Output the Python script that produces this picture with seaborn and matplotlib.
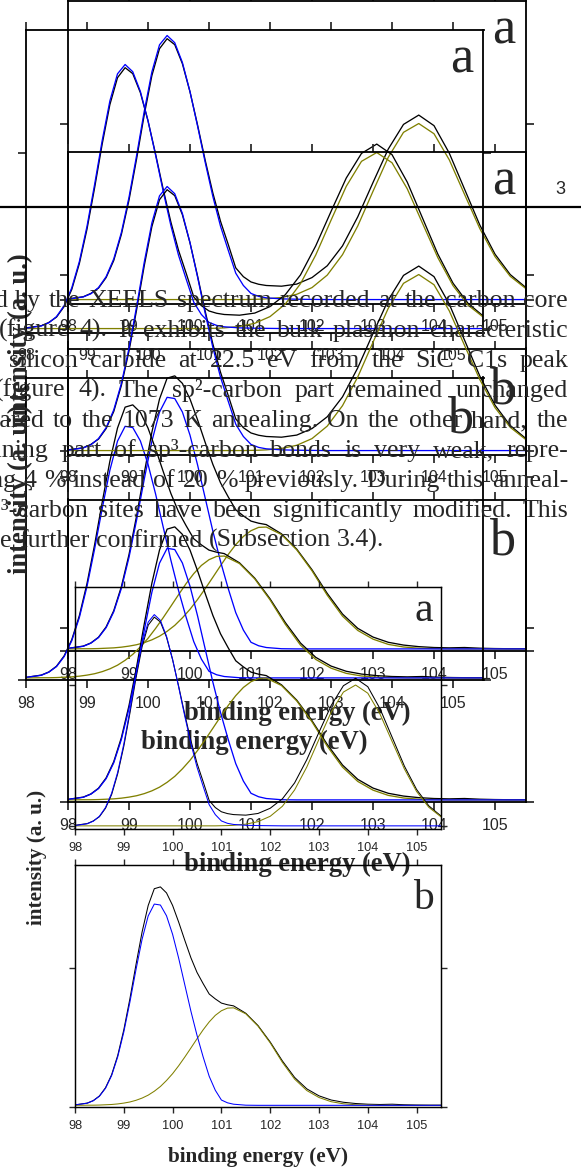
import numpy as np
import pandas as pd
import matplotlib
matplotlib.use("Agg")
import matplotlib.pyplot as plt
import seaborn as sns
from matplotlib.lines import Line2D

# ---------------- data ----------------
ENERGY = [98.0, 98.25, 98.375, 98.5, 98.625, 98.75, 98.875, 99.0, 99.125, 99.25, 99.375, 99.5,
          99.625, 99.75, 99.875, 100.0, 100.125, 100.25, 100.375, 100.5, 100.625, 100.75,
          100.875, 101.0, 101.125, 101.25, 101.5, 101.75, 102.0, 102.25, 102.5, 102.75,
          103.0, 103.25, 103.5, 103.75, 104.0, 104.25, 104.5, 104.75, 105.0, 105.25, 105.5]

# panel a : measured spectrum, Si-C component (blue), oxide component (olive)
A_TOTAL = [0.004, 0.016, 0.035, 0.065, 0.125, 0.222, 0.370, 0.565, 0.800, 1.050, 1.272, 1.425,
           1.482, 1.448, 1.340, 1.180, 0.990, 0.790, 0.605, 0.445, 0.315, 0.180,
           0.130, 0.100, 0.087, 0.080, 0.076, 0.088, 0.125, 0.192, 0.305, 0.470,
           0.665, 0.855, 0.995, 1.048, 0.988, 0.832, 0.628, 0.424, 0.258, 0.142, 0.070]
A_SIC = [0.002, 0.015, 0.033, 0.068, 0.130, 0.231, 0.381, 0.581, 0.819, 1.070, 1.293, 1.447,
         1.500, 1.459, 1.347, 1.181, 0.984, 0.778, 0.585, 0.417, 0.282, 0.150,
         0.080, 0.035, 0.018, 0.010, 0.004, 0.002, 0.001, 0.0, 0.0, 0.0,
         0.0, 0.0, 0.0, 0.0, 0.0, 0.0, 0.0, 0.0, 0.0, 0.0, 0.0]
A_OX = [0.0, 0.0, 0.0, 0.0, 0.0, 0.0, 0.0, 0.0, 0.0, 0.0, 0.0, 0.0,
        0.0, 0.0, 0.0, 0.0, 0.0, 0.0, 0.0, 0.0, 0.0, 0.0,
        0.0, 0.001, 0.002, 0.004, 0.012, 0.030, 0.068, 0.139, 0.255, 0.418,
        0.615, 0.808, 0.950, 1.000, 0.942, 0.794, 0.598, 0.404, 0.244, 0.132, 0.064]

# panel b
B_TOTAL = [0.015, 0.028, 0.046, 0.079, 0.138, 0.231, 0.369, 0.553, 0.776, 1.021, 1.255, 1.445,
           1.565, 1.578, 1.535, 1.445, 1.325, 1.195, 1.070, 0.965, 0.885, 0.810,
           0.775, 0.745, 0.733, 0.725, 0.672, 0.584, 0.466, 0.330, 0.212, 0.130,
           0.080, 0.050, 0.034, 0.025, 0.020, 0.018, 0.020, 0.016, 0.014, 0.013, 0.013]
B_SIC = [0.015, 0.027, 0.045, 0.077, 0.134, 0.225, 0.359, 0.537, 0.752, 0.985, 1.203, 1.370,
         1.455, 1.448, 1.371, 1.238, 1.066, 0.876, 0.687, 0.514, 0.360, 0.220,
         0.120, 0.050, 0.030, 0.020, 0.013, 0.012, 0.012, 0.012, 0.012, 0.012,
         0.012, 0.012, 0.012, 0.012, 0.012, 0.012, 0.012, 0.012, 0.012, 0.012, 0.012]
B_OX = [0.012, 0.013, 0.013, 0.014, 0.016, 0.018, 0.022, 0.028, 0.036, 0.048, 0.064, 0.085,
        0.113, 0.147, 0.190, 0.239, 0.296, 0.358, 0.423, 0.489, 0.553, 0.610,
        0.657, 0.690, 0.709, 0.711, 0.668, 0.580, 0.460, 0.320, 0.200, 0.118,
        0.068, 0.038, 0.023, 0.016, 0.014, 0.012, 0.012, 0.012, 0.012, 0.012, 0.012]

X_TICKS = [98, 99, 100, 101, 102, 103, 104, 105]
X_TICK_LABELS = ["98", "99", "100", "101", "102", "103", "104", "105"]
Y_TICKS = [0, 1]
PANEL_LETTERS = ["a", "b"]
X_LABEL = "binding energy (eV)"
Y_LABEL = "intensity (a. u.)"

TEXT_LINES = [
    "d by the XEELS spectrum recorded at the carbon core",
    "(figure 4). It exhibits the bulk plasmon characteristic",
    "silicon carbide at 22.5 eV from the SiC C1s peak",
    "(figure 4). The sp\u00b2-carbon part remained unchanged",
    "compared to the 1073 K annealing. On the other hand, the",
    "remaining part of sp\u00b3-carbon bonds is very weak, repre-",
    "ing 4 % instead of 20 % previously. During this anneal-",
    "sp\u00b3-carbon sites have been significantly modified. This",
    "be further confirmed (Subsection 3.4).",
]
PAGE_NUMBER = "3"

# ---------------- style ----------------
sns.set_style("ticks")
plt.rcParams["font.family"] = ["Liberation Sans", "DejaVu Sans"]
SERIF = ["Liberation Serif", "DejaVu Serif"]
BLUE = "#0000ff"
OLIVE = "#808000"

W, H = 581, 1171
fig = plt.figure(figsize=(W / 100, H / 100), dpi=100)

SETS = {
    "a": dict(total=A_TOTAL, sic=A_SIC, ox=A_OX, ylim=(-0.0223, 1.696), ly=0.858),
    "b": dict(total=B_TOTAL, sic=B_SIC, ox=B_OX, ylim=(0.0, 1.735), ly=0.818),
}


def panel(left, top, s, kind):
    w, h = 366 * s, 242 * s
    ax = fig.add_axes([left / W, 1 - (top + h) / H, w / W, h / H])
    ax.patch.set_visible(False)
    d = SETS[kind]
    df = pd.DataFrame({"energy": ENERGY, "total": d["total"], "sic": d["sic"], "ox": d["ox"]})
    lw = 0.75 * s
    sns.lineplot(data=df, x="energy", y="total", color="black", lw=lw, ax=ax)
    sns.lineplot(data=df, x="energy", y="ox", color=OLIVE, lw=lw, ax=ax)
    sns.lineplot(data=df, x="energy", y="sic", color=BLUE, lw=lw, ax=ax)
    ax.set_xlim(98, 105.5)
    ax.set_ylim(*d["ylim"])
    ax.set_xticks(X_TICKS)
    ax.set_xticklabels(X_TICK_LABELS)
    ax.set_yticks(Y_TICKS)
    ax.tick_params(axis="both", direction="out", top=True, right=True,
                   labelleft=False, labeltop=False, labelright=False,
                   length=4.6 * s, width=1.0 * s, labelsize=9.2 * s, pad=4.5 * s)
    for sp in ax.spines.values():
        sp.set_visible(True)
        sp.set_linewidth(1.05 * s)
        sp.set_color("black")
    ax.text(0.952, d["ly"], PANEL_LETTERS[0] if kind == "a" else PANEL_LETTERS[1],
            transform=ax.transAxes, ha="center", va="baseline",
            fontsize=30 * s, family=SERIF)
    if kind == "b":
        ax.set_xlabel(X_LABEL, fontsize=15.3 * s, family=SERIF, weight="bold")
        ax.xaxis.set_label_coords(0.5, -0.165)
        ax.set_ylabel(Y_LABEL, fontsize=15.3 * s, family=SERIF, weight="bold")
        ax.yaxis.set_label_coords(-0.077, 1.033)
    else:
        ax.set_xlabel("")
        ax.set_ylabel("")
    return ax


# copies of the two-panel figure (left px, top px of panel a, scale)
COPIES = [(68, 1, 1.25), (26, 30, 1.25), (68, 152, 1.25), (75, 587, 1.0)]
for left, top, s in COPIES:
    panel(left, top, s, "a")
    panel(left, top + 278 * s, s, "b")

# page header rule and page number
fig.add_artist(Line2D([0, 1], [1 - 207 / H, 1 - 207 / H], transform=fig.transFigure,
                      color="black", lw=1.6))
fig.text(560 / W, 1 - 194 / H, PAGE_NUMBER, ha="center", va="baseline", fontsize=13,
         family=["Liberation Sans"])

# overlaid page text (justified lines)
START_X = [-6, -1, 9, -5, -58, -56, -17, -22, -12]
RIGHT_X = 568
TEXT_SIZE = 18.6
renderer = fig.canvas.get_renderer()
for i, line in enumerate(TEXT_LINES):
    y = 1 - (307 + 30 * i) / H
    words = line.split(" ")
    texts = [fig.text(0, y, wd, ha="left", va="baseline", fontsize=TEXT_SIZE, family=SERIF,
                      zorder=5) for wd in words]
    widths = [t.get_window_extent(renderer).width for t in texts]
    last = (i == len(TEXT_LINES) - 1)
    if last or len(words) < 2:
        gap = TEXT_SIZE * 100 / 72 * 0.25
    else:
        gap = (RIGHT_X - START_X[i] - sum(widths)) / (len(words) - 1)
    x = START_X[i]
    for t, wd in zip(texts, widths):
        t.set_x(x / W)
        x += wd + gap

fig.savefig("out.png", dpi=100)
